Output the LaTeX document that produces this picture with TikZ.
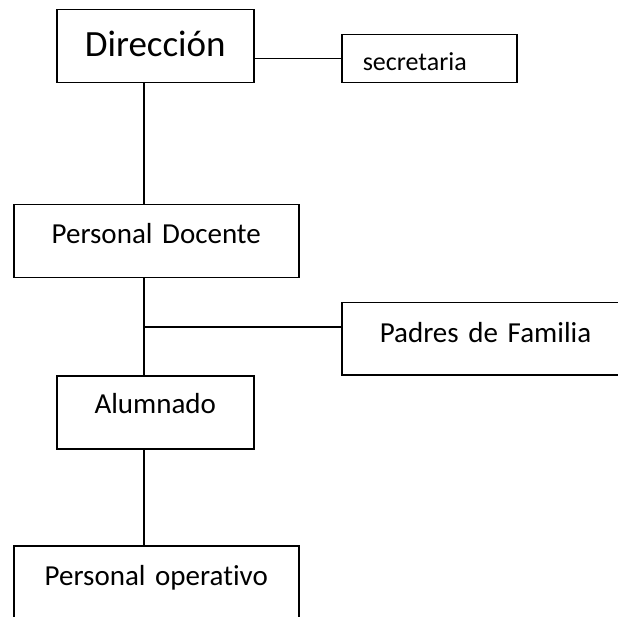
\documentclass[tikz,border=0pt]{standalone}
\usepackage{fontspec}
\setmainfont[Ligatures=CommonOff]{Carlito}
\usetikzlibrary{calc}

\tikzstyle{caja} = [
	draw=black,
	line width=1.5pt,
	anchor=north west,
	inner ysep=0pt,
	inner xsep=0pt,
	align=center,
]
\tikzstyle{linea} = [
	line width=1.5pt,
	draw=black,
]

\begin{document}
\begin{tikzpicture}[x=1pt, y=-1pt]

	\clip (0,0) rectangle (618,617);
	\fill[white] (0,0) rectangle (618,617);

	%
	% Boxes
	\node[caja, text width=197pt, text height=47pt, text depth=26pt, font=\fontsize{37}{40}\selectfont] at (56,9) (dir) {Direcci\'on};
	\node[caja, text width=133pt, inner xsep=21pt, align=left, text height=36pt, text depth=12pt, font=\fontsize{26}{28}\selectfont] at (341,34) (sec) {secretaria};
	\node[caja, text width=285pt, text height=39pt, text depth=34pt, font=\fontsize{29}{32}\selectfont] at (13,204) (doc) {Personal Docente};
	\node[caja, text width=282pt, inner xsep=38pt, align=left, text height=40pt, text depth=32pt, font=\fontsize{29}{32}\selectfont] at (341,302) (pad) {Padres de Familia};
	\node[caja, text width=197pt, text height=38pt, text depth=35pt, font=\fontsize{29}{32}\selectfont] at (56,375) (alu) {Alumnado};
	\node[caja, text width=285pt, text height=40pt, text depth=45pt, font=\fontsize{29}{32}\selectfont] at (13,545) (ope) {Personal operativo};

	%
	% Connectors
	\coordinate (eje) at (144,0);
	\coordinate (cruce) at (144,327);

	\draw[linea] (sec.west) -- (sec.west -| dir.east);
	\draw[linea] (eje |- dir.south) -- (eje |- doc.north);
	\draw[linea] (eje |- doc.south) -- (eje |- alu.north);
	\draw[linea] (pad.west |- cruce) -- (cruce);
	\draw[linea] (eje |- alu.south) -- (eje |- ope.north);

\end{tikzpicture}
\end{document}
